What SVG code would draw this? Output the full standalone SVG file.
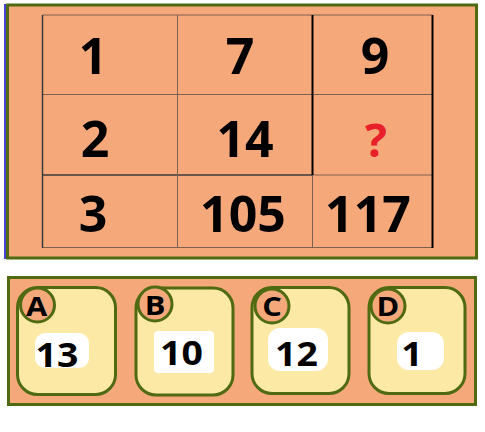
<svg xmlns="http://www.w3.org/2000/svg" width="485" height="432" viewBox="0 0 485 432">
<style>
.num{font-family:"Open Sans","Noto Sans",sans-serif;font-weight:bold;font-size:50px;text-anchor:middle;fill:#000}
.thin{stroke:#7d6150;stroke-width:1}
.thick{stroke:#000;stroke-width:2}
.card{fill:#fde9a6;stroke:#4f6a10;stroke-width:3}
.badge{fill:#f5a97b;stroke:#4f6a10;stroke-width:3}
.let{font-family:"Open Sans","Noto Sans",sans-serif;font-weight:bold;font-size:27px;text-anchor:middle;fill:#000}
.val{font-family:"Open Sans","Noto Sans",sans-serif;font-weight:bold;font-size:34px;text-anchor:middle;fill:#000}
.lbl{fill:#fff}
</style>
<rect width="485" height="432" fill="#fff"/>
<g id="puzzle-grid">
<rect x="7.5" y="5" width="469" height="253" fill="#f5a97b" stroke="#4f6a10" stroke-width="3"/>
<line x1="5" y1="4" x2="5" y2="259" stroke="#4545d0" stroke-width="2"/>
<line class="thin" x1="42.5" y1="15" x2="433" y2="15"/>
<line class="thin" x1="42.5" y1="94.5" x2="433" y2="94.5"/>
<line x1="42.5" y1="175" x2="312.5" y2="175" stroke="#3a3a3a" stroke-width="1.5"/>
<line class="thin" x1="312.5" y1="175" x2="433" y2="175"/>
<line class="thin" x1="42.5" y1="247.5" x2="433" y2="247.5"/>
<line x1="42.5" y1="15" x2="42.5" y2="248" stroke="#3a3a3a" stroke-width="1.5"/>
<line class="thin" x1="177.5" y1="15" x2="177.5" y2="248"/>
<line class="thick" x1="312.5" y1="15" x2="312.5" y2="175"/>
<line class="thin" x1="312.5" y1="175" x2="312.5" y2="248"/>
<line class="thick" x1="432.5" y1="15" x2="432.5" y2="248"/>
<text class="num" x="93" y="74">1</text>
<text class="num" x="240" y="74">7</text>
<text class="num" x="375" y="74">9</text>
<text class="num" x="95" y="157">2</text>
<text class="num" x="245" y="157">14</text>
<text class="num" x="376" y="157" style="fill:#e8202a;font-size:46px">?</text>
<text class="num" x="93" y="232">3</text>
<text class="num" x="243" y="232">105</text>
<text class="num" x="368" y="232">117</text>
</g>
<g id="options-panel">
<rect x="8.5" y="277.5" width="467" height="127" fill="#f5a97b" stroke="#4f6a10" stroke-width="3"/>
</g>
<g id="option-A">
<rect class="card" x="17.5" y="287.5" width="98" height="107" rx="20"/>
<circle class="badge" cx="37.5" cy="305" r="17"/>
<text class="let" transform="translate(36.5,315.5) scale(1.14,1)">A</text>
<rect class="lbl" x="35" y="333" width="54" height="35" rx="10"/>
<text class="val" transform="translate(57,367) scale(1.1,1)">13</text>
</g>
<g id="option-B">
<rect class="card" x="136" y="288" width="97" height="107" rx="20"/>
<circle class="badge" cx="155" cy="304" r="17"/>
<text class="let" transform="translate(155,315) scale(1.14,1)">B</text>
<rect class="lbl" x="154" y="331" width="60" height="42" rx="4"/>
<text class="val" transform="translate(181.5,365) scale(1.1,1)">10</text>
</g>
<g id="option-C">
<rect class="card" x="252" y="287.5" width="97" height="106" rx="20"/>
<circle class="badge" cx="272" cy="306" r="17"/>
<text class="let" transform="translate(272,316) scale(1.14,1)">C</text>
<rect class="lbl" x="268" y="328" width="60" height="43" rx="12"/>
<text class="val" transform="translate(296.5,366) scale(1.1,1)">12</text>
</g>
<g id="option-D">
<rect class="card" x="369" y="287.5" width="96" height="106" rx="20"/>
<circle class="badge" cx="388" cy="306" r="17"/>
<text class="let" transform="translate(388,316) scale(1.14,1)">D</text>
<rect class="lbl" x="397" y="332" width="47" height="38" rx="12"/>
<text class="val" transform="translate(412,366) scale(1.1,1)">1</text>
</g>
</svg>
